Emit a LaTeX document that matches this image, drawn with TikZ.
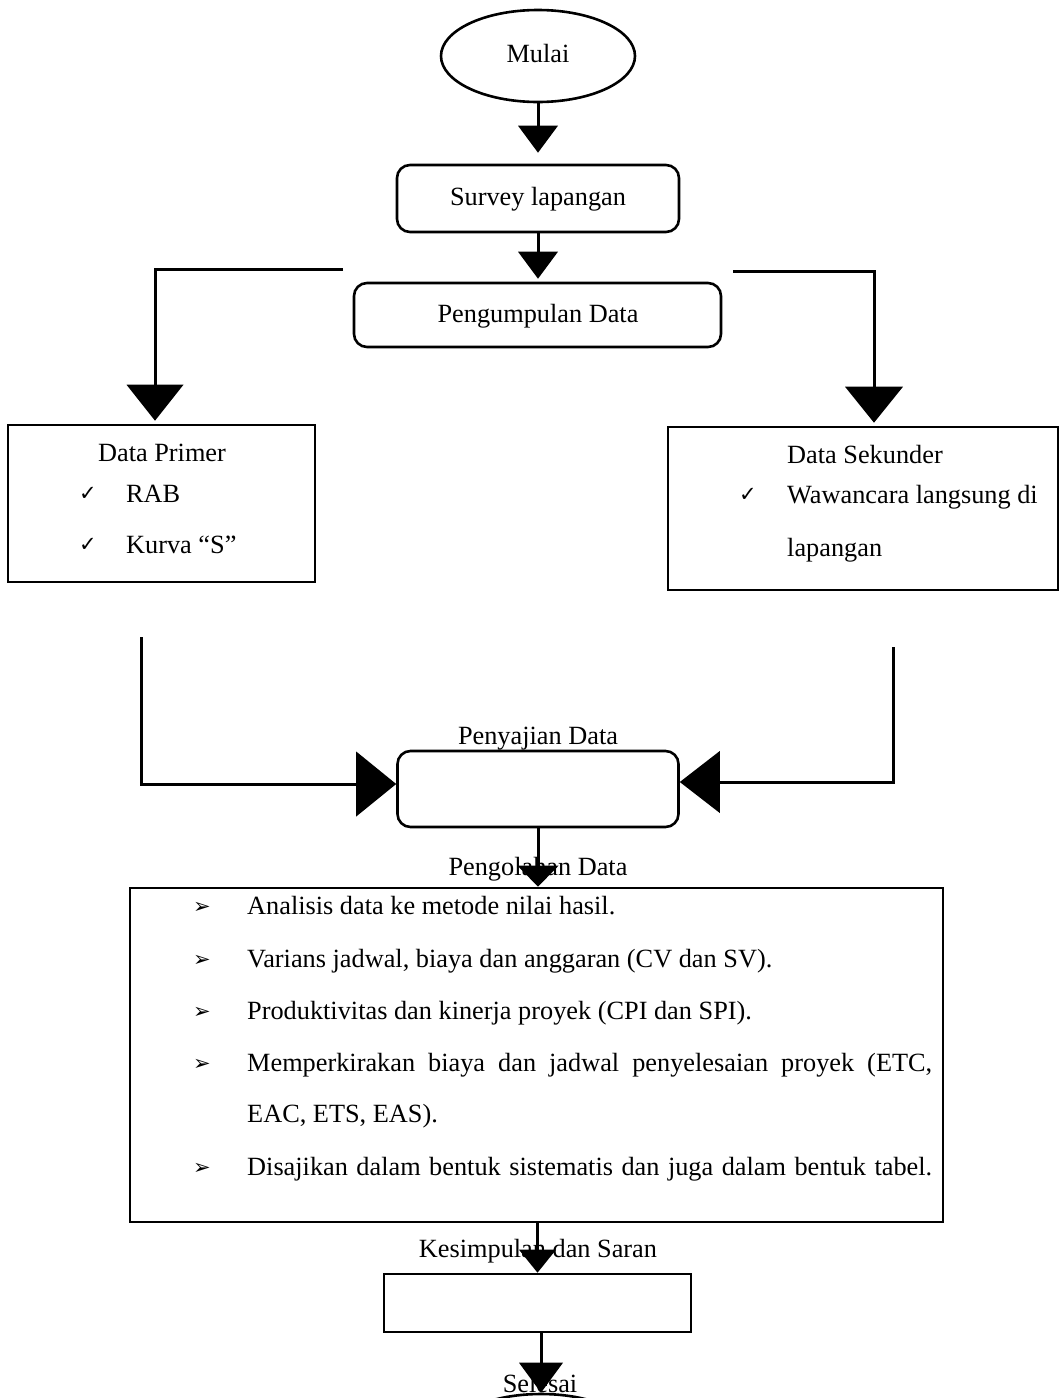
\documentclass[tikz,border=0pt]{standalone}
\usepackage{fontspec}
\setmainfont{Liberation Serif}
\newfontfamily\symfont{DejaVu Sans}
\usetikzlibrary{arrows.meta,shapes.geometric}
\newcommand{\fs}{\fontsize{26.3}{31}\selectfont}
\begin{document}
\begin{tikzpicture}[x=1pt,y=-1pt,
  box/.style={draw, line width=2.6pt, inner sep=0pt},
  rbox/.style={box, rounded corners=13pt},
  conn/.style={line width=3pt},
  arr/.style 2 args={-{Triangle[length=#1,width=#2,line width=0pt]}},
  lbl/.style={font=\fs, inner sep=0pt, anchor=base},
  lblw/.style={font=\fs, inner sep=0pt, anchor=base west},
  chk/.style={font=\symfont\fontsize{21}{24}\selectfont, inner sep=0pt, anchor=base},
  bul/.style={font=\symfont\fontsize{21}{24}\selectfont, inner sep=0pt, anchor=base},
]
\useasboundingbox (0,0) rectangle (1060,1398);

% shapes
\node[box, ellipse, minimum width=194pt, minimum height=92pt] (mulai) at (538,56) {};
\node[rbox, minimum width=282pt, minimum height=67pt] (survey) at (538,198.5) {};
\node[rbox, minimum width=367pt, minimum height=64pt] (kumpul) at (537.5,315) {};
\node[box, minimum width=307pt, minimum height=157pt] (primer) at (161.5,503.5) {};
\node[box, minimum width=390pt, minimum height=163pt] (sekunder) at (863,508.5) {};
\node[rbox, minimum width=281pt, minimum height=76pt] (saji) at (538,789) {};
\node[box, minimum width=813pt, minimum height=334pt] (olah) at (536.5,1055) {};
\node[box, minimum width=307pt, minimum height=58pt] (simpul) at (537.5,1303) {};
\node[box, ellipse, minimum width=194pt, minimum height=92pt] (selesai) at (541,1440) {};

% labels
\node[lbl] (tmulai) at (538,62) {Mulai};
\node[lbl] (tsurvey) at (538,205) {Survey lapangan};
\node[lbl] (tkumpul) at (538,322) {Pengumpulan Data};
\node[lbl] (tprimer) at (162,461) {Data Primer};
\node[chk] (c1) at (88,500) {✓};
\node[lblw] (trab) at (126,502) {RAB};
\node[chk] (c2) at (88,551) {✓};
\node[lblw] (tkurva) at (126,553) {Kurva “S”};
\node[lblw] (tsekunder) at (787,463) {Data Sekunder};
\node[chk] (c3) at (748,501) {✓};
\node[lblw] (twaw) at (787,503) {Wawancara langsung di};
\node[lblw] (tlap) at (787,556) {lapangan};
\node[lbl] (tsaji) at (538,744) {Penyajian Data};
\node[lbl] (tolah) at (538,875) {Pengolahan Data};
\node[bul] (b1) at (202,913) {➢};
\node[lblw] (i1) at (247,914) {Analisis data ke metode nilai hasil.};
\node[bul] (b2) at (202,966) {➢};
\node[lblw] (i2) at (247,967) {Varians jadwal, biaya dan anggaran (CV dan SV).};
\node[bul] (b3) at (202,1018) {➢};
\node[lblw] (i3) at (247,1019) {Produktivitas dan kinerja proyek (CPI dan SPI).};
\node[bul] (b4) at (202,1070) {➢};
\node[lblw] (i4) at (247,1071) {\makebox[685pt][s]{Memperkirakan biaya dan jadwal penyelesaian proyek (ETC,}};
\node[lblw] (i5) at (247,1122) {EAC, ETS, EAS).};
\node[bul] (b6) at (202,1174) {➢};
\node[lblw] (i6) at (247,1175) {\makebox[685pt][s]{Disajikan dalam bentuk sistematis dan juga dalam bentuk tabel.}};
\node[lbl] (tsimpul) at (538,1257) {Kesimpulan dan Saran};
\node[lbl] (tselesai) at (540,1392) {Selesai};

% connectors
\coordinate (lstub) at (343,269);
\coordinate (lturn) at (155,269);
\coordinate (rstub) at (733,271);
\coordinate (rturn) at (874,271);
\coordinate (lb) at (141,637);
\coordinate (lbend) at (141,784);
\coordinate (rb) at (893,647);
\coordinate (rbend) at (893,782);

\draw[conn, arr={27pt}{40pt}, shorten >=11pt] (mulai.south) -- (mulai.south |- survey.north);
\draw[conn, arr={27pt}{40pt}, shorten >=3pt] (survey.south) -- (survey.south |- kumpul.north);
\draw[conn, arr={36pt}{57pt}, shorten >=3pt] (lstub) -- (lturn) -- (lturn |- primer.north);
\draw[conn, arr={36pt}{58pt}, shorten >=3pt] (rstub) -- (rturn) -- (rturn |- sekunder.north);
\draw[conn, arr={40pt}{65pt}] (lb) -- (lbend) -- (lbend -| saji.west);
\draw[conn, arr={40pt}{62pt}] (rb) -- (rbend) -- (rbend -| saji.east);
\draw[conn, arr={21pt}{41pt}] (saji.south) -- (saji.south |- olah.north);
\draw[conn, arr={23pt}{37pt}] (simpul.north |- olah.south) -- (simpul.north);
\draw[conn, arr={30pt}{44pt}] (selesai.north |- simpul.south) -- (selesai.north);
\end{tikzpicture}
\end{document}
